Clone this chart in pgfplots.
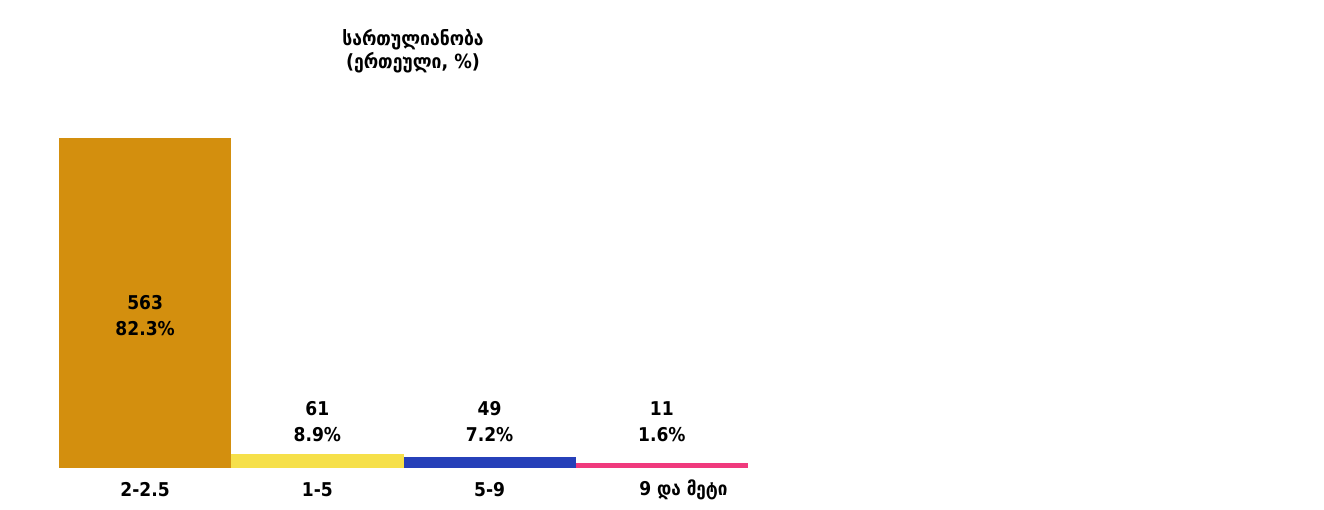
\documentclass[border=0pt]{standalone}
\usepackage{fontspec}
\setmainfont{DejaVu Sans Condensed}
\usepackage{pgfplots}
\pgfplotsset{compat=1.18}
\definecolor{cOrange}{HTML}{D38F0E}
\definecolor{cYellow}{HTML}{F6E04A}
\definecolor{cBlue}{HTML}{2640B9}
\definecolor{cPink}{HTML}{F03A7D}
\newcommand{\lab}{\fontsize{19}{26}\selectfont\bfseries}
\begin{document}
\begin{tikzpicture}[x=1pt,y=1pt]
\fill[white] (0,0) rectangle (1324,509);
\useasboundingbox (0,0) rectangle (1324,509);
\node[align=center, font=\fontsize{19.5}{23}\selectfont\bfseries] at (413,458) {სართულიანობა\\(ერთეული, \%)};
\begin{axis}[
  at={(59pt,41pt)}, anchor=south west,
  scale only axis, width=689pt, height=330pt,
  xmin=0, xmax=4, ymin=0, ymax=330,
  axis line style={draw=none}, tick style={draw=none},
  ytick=\empty,
  xtick={0.5,1.5,2.5,3.625},
  xticklabels={2-2.5,1-5,5-9,{9 და მეტი}},
  xticklabel style={font=\lab, anchor=center, yshift=-22pt},
  clip=false,
]
% visual bar heights (px) as drawn in the reference; counts: 563, 61, 49, 11
\addplot[ybar, bar width=1, fill=cOrange, draw=none] coordinates {(0.5,330)};
\addplot[ybar, bar width=1, fill=cYellow, draw=none] coordinates {(1.5,14)};
\addplot[ybar, bar width=1, fill=cBlue, draw=none] coordinates {(2.5,11)};
\addplot[ybar, bar width=1, fill=cPink, draw=none] coordinates {(3.5,5)};
\node[align=center, font=\lab] at (axis cs:0.5,152) {563\\82.3\%};
\node[align=center, font=\lab] at (axis cs:1.5,46.5) {61\\8.9\%};
\node[align=center, font=\lab] at (axis cs:2.5,46.5) {49\\7.2\%};
\node[align=center, font=\lab] at (axis cs:3.5,46.5) {11\\1.6\%};
\end{axis}
\end{tikzpicture}
\end{document}
